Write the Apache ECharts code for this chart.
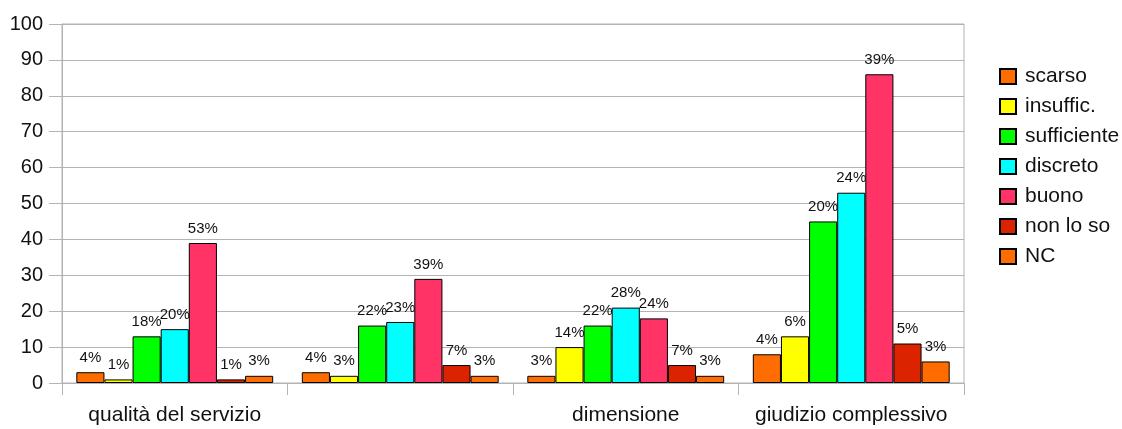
<!DOCTYPE html>
<html>
<head>
<meta charset="utf-8">
<script src="https://cdn.jsdelivr.net/npm/echarts@6/dist/echarts.min.js"></script>
<style>
html,body{margin:0;padding:0;background:#fff;}
#chart{width:1122px;height:429px;}
</style>
</head>
<body>
<div id="chart"></div>
<script>
const categories = ['qualità del servizio', '', 'dimensione', 'giudizio complessivo'];
const yTicks = { min: 0, max: 100, interval: 10 };

const seriesNames = ['scarso', 'insuffic.', 'sufficiente', 'discreto', 'buono', 'non lo so', 'NC'];
const seriesColors = ['#ff6d00', '#ffff00', '#00ff00', '#00ffff', '#ff3366', '#dc2300', '#ff6d00'];

const scarso      = [3, 3, 2, 8];
const insuffic    = [1, 2, 10, 13];
const sufficiente = [13, 16, 16, 45];
const discreto    = [15, 17, 21, 53];
const buono       = [39, 29, 18, 86];
const nonLoSo     = [1, 5, 5, 11];
const nc          = [2, 2, 2, 6];

const scarsoPct      = ['4%', '4%', '3%', '4%'];
const insufficPct    = ['1%', '3%', '14%', '6%'];
const sufficientePct = ['18%', '22%', '22%', '20%'];
const discretoPct    = ['20%', '23%', '28%', '24%'];
const buonoPct       = ['53%', '39%', '24%', '39%'];
const nonLoSoPct     = ['1%', '7%', '7%', '5%'];
const ncPct          = ['3%', '3%', '3%', '3%'];

const values = [scarso, insuffic, sufficiente, discreto, buono, nonLoSo, nc];
const pcts = [scarsoPct, insufficPct, sufficientePct, discretoPct, buonoPct, nonLoSoPct, ncPct];

const FONT = '"Liberation Sans", Arial, sans-serif';
const GRID = '#b3b3b3';

const chart = echarts.init(document.getElementById('chart'), null, { renderer: 'canvas' });

const series = seriesNames.map((name, i) => ({
  name: name,
  type: 'bar',
  data: values[i],
  barGap: '0%',
  barCategoryGap: '12.7%',
  itemStyle: { color: seriesColors[i], borderColor: '#000', borderWidth: 1 },
  label: {
    show: true,
    position: 'top',
    distance: 7,
    fontFamily: FONT,
    fontSize: 15,
    color: '#111',
    formatter: p => pcts[i][p.dataIndex]
  }
}));

chart.setOption({
  animation: false,
  backgroundColor: '#fff',
  grid: { left: 62, right: 158, top: 24, bottom: 46, show: true, borderColor: GRID, borderWidth: 1 },
  legend: {
    orient: 'vertical',
    left: 999,
    top: 66,
    padding: 0,
    itemWidth: 16,
    itemHeight: 15,
    itemGap: 9,
    icon: 'rect',
    textStyle: { fontFamily: FONT, fontSize: 21, color: '#111', padding: [0, 0, 0, 4] },
    data: seriesNames
  },
  xAxis: {
    type: 'category',
    data: categories,
    axisLine: { show: true, lineStyle: { color: GRID } },
    axisTick: { show: true, length: 12, lineStyle: { color: GRID } },
    axisLabel: { interval: 0, margin: 22, fontFamily: FONT, fontSize: 21, color: '#111' }
  },
  yAxis: {
    type: 'value',
    min: yTicks.min,
    max: yTicks.max,
    interval: yTicks.interval,
    axisLine: { show: true, lineStyle: { color: GRID } },
    axisTick: { show: true, length: 13, lineStyle: { color: GRID } },
    splitLine: { show: true, lineStyle: { color: GRID } },
    axisLabel: { margin: 19, fontFamily: FONT, fontSize: 20, color: '#111' }
  },
  series: series
});
</script>
</body>
</html>
